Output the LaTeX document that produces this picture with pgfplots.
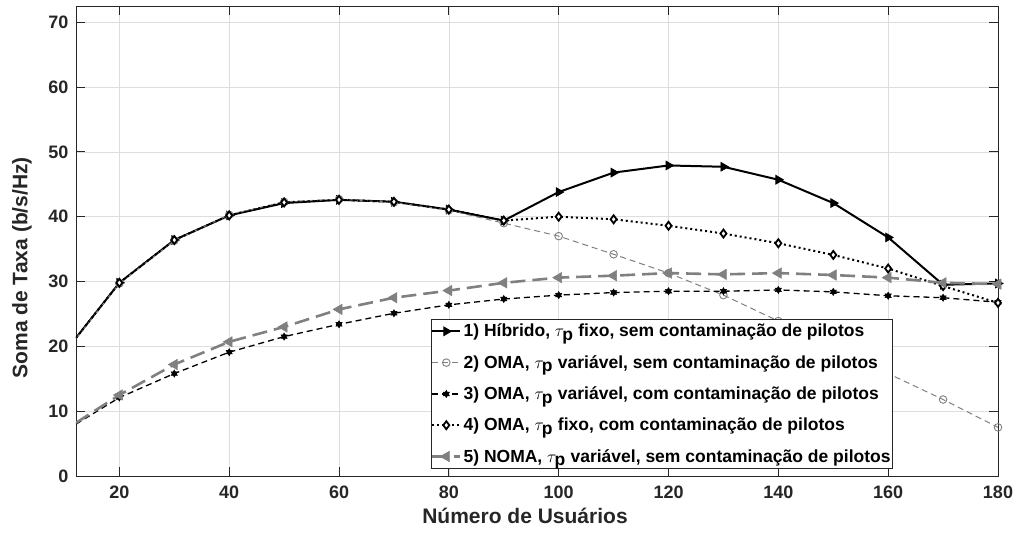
\documentclass[border=0pt]{standalone}
\usepackage{pgfplots}
\pgfplotsset{compat=1.18}
\usepackage{fontspec}
\setmainfont{Liberation Sans}
\definecolor{axiscol}{rgb}{0.15,0.15,0.15}
\definecolor{gridcol}{rgb}{0.87,0.87,0.87}
\definecolor{gcol}{rgb}{0.5,0.5,0.5}
\pgfdeclareplotmark{hexagram}{%
 \pgfpathmoveto{\pgfqpointpolar{90}{\pgfplotmarksize}}%
 \pgfpathlineto{\pgfqpointpolar{210}{\pgfplotmarksize}}%
 \pgfpathlineto{\pgfqpointpolar{330}{\pgfplotmarksize}}%
 \pgfpathclose
 \pgfpathmoveto{\pgfqpointpolar{30}{\pgfplotmarksize}}%
 \pgfpathlineto{\pgfqpointpolar{150}{\pgfplotmarksize}}%
 \pgfpathlineto{\pgfqpointpolar{270}{\pgfplotmarksize}}%
 \pgfpathclose
 \pgfusepathqfillstroke}
\begin{document}
\begin{tikzpicture}
\useasboundingbox (-76pt,-64pt) rectangle (942pt,476pt);
\begin{axis}[
  scale only axis, width=922pt, height=470pt,
  xmin=12.1, xmax=180, ymin=0, ymax=72.5,
  xtick={20,40,...,180}, ytick={0,10,...,70},
  grid=major, major grid style={color=gridcol, line width=0.7pt},
  axis line style={color=axiscol, line width=0.8pt},
  tick style={color=axiscol, line width=0.8pt},
  tick align=inside, major tick length=9pt,
  /pgf/number format/assume math mode=true,
  ticklabel style={font=\bfseries\fontsize{18}{20}\selectfont, text=axiscol},
  xticklabel style={yshift=-6pt},
  yticklabel style={xshift=-4pt},
  xlabel={Número de Usuários},
  ylabel={Soma de Taxa (b/s/Hz)},
  label style={font=\bfseries\fontsize{21}{24}\selectfont, text=axiscol},
  xlabel style={at={(axis description cs:0.487,0)}, anchor=north, inner sep=0pt, yshift=-32pt},
  ylabel style={at={(axis description cs:-0.0586,0.443)}, anchor=center, rotate=0, inner sep=0pt},
  legend style={at={(rel axis cs:0.886,0.015)}, anchor=south east,
    font=\bfseries\fontsize{17.5}{20}\selectfont, cells={anchor=west},
    draw=axiscol, line width=0.6pt, row sep=13pt, inner xsep=0pt, inner ysep=3pt,
    fill=white},
  legend image code/.code={\draw[mark repeat=2,mark phase=2] plot coordinates {(0pt,0pt)(14pt,0pt)(28pt,0pt)};},
]
\addplot[black, line width=2pt, mark=triangle*, mark phase=2, mark size=5pt,
  mark options={solid, rotate=-90, line width=0.8pt}] coordinates {
(12.1,21.3)(20,29.8)(30,36.4)(40,40.2)(50,42.1)(60,42.6)(70,42.3)(80,41.1)(90,39.4)
(100,43.8)(110,46.8)(120,47.9)(130,47.7)(140,45.7)(150,42.1)(160,36.8)(170,29.5)(180,29.7)};
\addlegendentry{1) Híbrido, $\tau_{\textbf{p}}$ fixo, sem contaminação de pilotos}
\addplot[gcol, line width=1pt, dash pattern=on 6pt off 4pt, mark=o, mark phase=2, mark size=3.8pt,
  mark options={solid, line width=0.9pt}] coordinates {
(12.1,21.2)(20,29.7)(30,36.3)(40,40.3)(50,42.3)(60,42.7)(70,42.2)(80,41.0)(90,39.0)
(100,37.0)(110,34.2)(120,31.3)(130,27.9)(140,23.9)(150,19.9)(160,15.8)(170,11.8)(180,7.5)};
\addlegendentry{2) OMA, $\tau_{\textbf{p}}$ variável, sem contaminação de pilotos}
\addplot[black, line width=1.3pt, dash pattern=on 6pt off 4pt, mark=hexagram, mark phase=2, mark size=3.6pt,
  mark options={solid, line width=0.5pt}] coordinates {
(12.1,8.0)(20,12.1)(30,15.8)(40,19.1)(50,21.5)(60,23.4)(70,25.1)(80,26.4)(90,27.3)
(100,27.9)(110,28.3)(120,28.5)(130,28.5)(140,28.7)(150,28.4)(160,27.8)(170,27.5)(180,26.8)};
\addlegendentry{3) OMA, $\tau_{\textbf{p}}$ variável, com contaminação de pilotos}
\addplot[black, line width=2pt, dash pattern=on 2pt off 3pt, mark=diamond*, mark phase=2, mark size=4pt,
  mark options={solid, fill=white, line width=1.8pt}] coordinates {
(12.1,21.3)(20,29.8)(30,36.4)(40,40.2)(50,42.2)(60,42.6)(70,42.3)(80,41.1)(90,39.4)
(100,40.0)(110,39.6)(120,38.6)(130,37.4)(140,35.9)(150,34.1)(160,32.0)(170,29.3)(180,26.7)};
\addlegendentry{4) OMA, $\tau_{\textbf{p}}$ fixo, com contaminação de pilotos}
\addplot[gcol, line width=2.6pt, dash pattern=on 15pt off 7pt, mark=triangle*, mark phase=2, mark size=6pt,
  mark options={solid, rotate=90, line width=0.5pt}] coordinates {
(12.1,8.2)(20,12.5)(30,17.2)(40,20.7)(50,23.0)(60,25.7)(70,27.5)(80,28.6)(90,29.8)
(100,30.6)(110,30.9)(120,31.3)(130,31.1)(140,31.3)(150,31.0)(160,30.6)(170,29.8)(180,29.6)};
\addlegendentry{5) NOMA, $\tau_{\textbf{p}}$ variável, sem contaminação de pilotos}
\end{axis}
\end{tikzpicture}
\end{document}
